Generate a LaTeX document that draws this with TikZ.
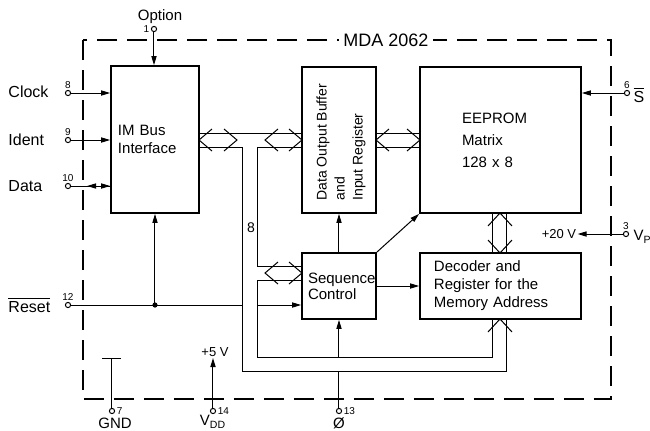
\documentclass[tikz,border=0pt]{standalone}
\usepackage{fontspec}
\setmainfont{Liberation Sans}
\usetikzlibrary{arrows.meta}

\tikzset{
  blk/.style={draw, line width=0.9pt, inner sep=0pt, align=left, font=\fontsize{7.5}{9}\selectfont},
  term/.style={circle, draw, line width=0.5pt, fill=white, inner sep=0pt, minimum size=2.6pt},
  pnum/.style={font=\fontsize{5}{5}\selectfont, inner sep=0.6pt},
  sig/.style={font=\fontsize{8}{9}\selectfont, inner sep=0pt, anchor=west},
  volt/.style={font=\fontsize{6.5}{7}\selectfont, inner sep=0.5pt},
  tip/.style={-{Triangle[length=4.5pt,width=2.6pt]}},
}

% open bus arrow heads, tip at (#1,#2)
\newcommand{\chevL}[2]{\draw (#1+13,#2-11) -- (#1,#2) -- (#1+13,#2+11);}
\newcommand{\chevR}[2]{\draw (#1-13,#2-11) -- (#1,#2) -- (#1-13,#2+11);}
\newcommand{\chevU}[2]{\draw (#1-12,#2+13) -- (#1,#2) -- (#1+12,#2+13);}
\newcommand{\chevD}[2]{\draw (#1-12,#2-13) -- (#1,#2) -- (#1+12,#2-13);}

\begin{document}
\begin{tikzpicture}[x=0.5pt, y=-0.5pt, line width=0.5pt]
\useasboundingbox (0,0) rectangle (650,430);

% chip outline
\draw[line width=1.4pt, dash pattern=on 10pt off 5pt] (83,40) rectangle (611,399);
\node[fill=white, font=\fontsize{9}{9}\selectfont, inner xsep=2pt] (title) at (386,40) {MDA 2062};

% blocks
\node[blk, minimum width=44pt, minimum height=73.5pt, text width=37pt] (imbus) at (155,139.5) {IM Bus\\Interface};
\node[blk, minimum width=37pt, minimum height=73pt] (dob) at (339,140) {};
\node[rotate=90, anchor=west, align=left, inner sep=0pt, font=\fontsize{7}{9}\selectfont] (dobtext) at (341,201) {Data Output Buffer\\and\\Input Register};
\node[blk, minimum width=80.5pt, minimum height=73pt, text width=38.5pt] (eeprom) at (500.5,140) {EEPROM\\[2pt]Matrix\\[2pt]128 x 8};
\node[blk, minimum width=37pt, minimum height=33pt, text width=31pt, font=\fontsize{7.5}{8}\selectfont] (seq) at (339,286) {Sequence\\Control};
\node[blk, minimum width=80.5pt, minimum height=33pt, text width=66.5pt] (dec) at (500.5,286) {Decoder and\\Register for the\\Memory Address};

% pins on the left
\node[term] (p1) at (154,29) {};
\node[pnum, left] (n1) at (p1.west) {1};
\node[font=\fontsize{7.5}{8}\selectfont, inner sep=0pt] (opt) at (160,17) {Option};
\draw[tip] (p1) -- (p1 |- imbus.north);

\node[term] (p8) at (68,93) {};
\node[pnum, above] (n8) at (p8.north) {8};
\node[sig] (clk) at (8,92) {Clock};
\draw[tip] (p8) -- (p8 -| imbus.west);

\node[term] (p9) at (68,140) {};
\node[pnum, above] (n9) at (p9.north) {9};
\node[sig] (idt) at (8,140) {Ident};
\draw[tip] (p9) -- (p9 -| imbus.west);

\node[term] (p10) at (68,186) {};
\node[pnum, above] (n10) at (p10.north) {10};
\node[sig] (dat) at (8,186) {Data};
\draw[tip] (p10) -- (p10 -| imbus.west);
\draw[{Triangle[length=4.5pt,width=2.6pt]}-, shorten <=8pt] (p10) -- (p10 -| imbus.west);

\node[term] (p12) at (68,305) {};
\node[pnum, above] (n12) at (p12.north) {12};
\node[sig] (rst) at (8,305) {$\overline{\mbox{Reset}}$};
\coordinate (rj) at (imbus.south |- p12);
\coordinate (rout) at (243,305);
\coordinate (rin) at (258,305);
\draw (p12) -- (rout);
\fill (rj) circle [radius=1.3pt];
\draw[tip] (rj) -- (imbus.south);
\draw[tip] (rin) -- (rin -| seq.west);

% data bus
\draw (199,133) -- (302,133);
\draw (199,147) -- (243,147) -- (243,371) -- (507,371) -- (507,319);
\draw (302,147) -- (258,147) -- (258,266) -- (302,266);
\draw (302,280) -- (258,280) -- (258,357) -- (493,357) -- (493,319);
\chevL{199}{140} \chevR{237}{140}
\chevL{265}{140} \chevR{302}{140}
\chevL{265}{273} \chevR{302}{273}
\chevU{500}{319}
\node[font=\fontsize{7}{7}\selectfont, inner sep=0pt] (w8) at (251,228) {8};

\draw (376,133) -- (420,133);
\draw (376,147) -- (420,147);
\chevL{376}{140} \chevR{420}{140}
\draw (493,213) -- (493,253);
\draw (507,213) -- (507,253);
\chevU{500}{213} \chevD{500}{253}

% sequence control
\draw[tip] (seq.north) -- (dob.south);
\draw[tip] (seq.north east) -- (eeprom.south west);
\draw[tip] (seq.east) -- (dec.west);

% pins on the right
\node[term] (p6) at (627,93) {};
\node[pnum, above] (n6) at (p6.north) {6};
\node[font=\fontsize{8}{8}\selectfont, inner sep=0pt] (sb) at (639,95) {$\overline{\mbox{S}}$};
\draw[tip] (p6) -- (p6 -| eeprom.east);

\node[term] (p3) at (626,234) {};
\node[pnum, above] (n3) at (p3.north) {3};
\node[font=\fontsize{7.5}{8}\selectfont, anchor=west, inner sep=0pt] (vp) at (633,237) {V\textsubscript{P}};
\node[volt] (v20) at (559,234) {+20 V};
\draw[tip] (p3) -- (v20.east);

% pins at the bottom
\node[term] (p7) at (112,411) {};
\node[pnum, right] (n7) at (p7.east) {7};
\node[font=\fontsize{7.5}{8}\selectfont, inner sep=0pt] (gnd) at (115,423) {GND};
\coordinate (gt) at (112,358);
\draw (p7) -- (gt);
\draw (102,358) -- (121,358);

\node[term] (p14) at (213,411) {};
\node[pnum, right] (n14) at (p14.east) {14};
\node[volt] (v5) at (215,352) {+5 V};
\node[font=\fontsize{7.5}{8}\selectfont, inner sep=0pt] (vdd) at (213,422) {V\textsubscript{DD}};
\draw[tip] (p14) -- (v5.south -| p14);

\node[term] (p13) at (339,411) {};
\node[pnum, right] (n13) at (p13.east) {13};
\node[font=\fontsize{7.5}{8}\selectfont, inner sep=0pt] (phi) at (339,423) {Ø};
\coordinate (phiin) at (339,371);
\coordinate (phiup) at (339,357);
\draw (p13) -- (phiin);
\draw[tip] (phiup) -- (seq.south);
\end{tikzpicture}
\end{document}
